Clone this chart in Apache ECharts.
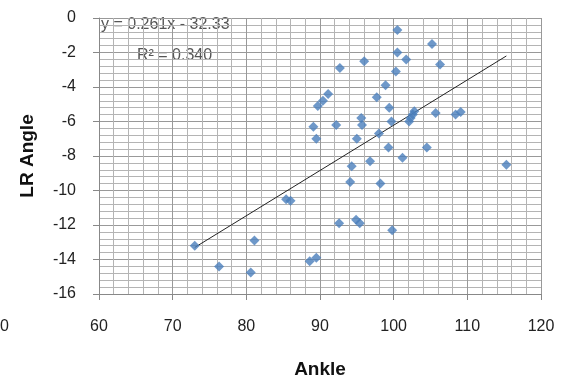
<!DOCTYPE html>
<html>
<head>
<meta charset="utf-8">
<script src="https://cdn.jsdelivr.net/npm/echarts@6/dist/echarts.min.js"></script>
<style>
  html, body { margin: 0; padding: 0; background: #fff; }
  #main { width: 561px; height: 379px; }
</style>
</head>
<body>
<div id="main"></div>
<script>
var myChart = echarts.init(document.getElementById('main'));

// Ankle (x) and LR Angle (y)
var ankle = [100.5, 105.2, 100.5, 101.7, 96.0, 92.7, 106.3, 100.3, 98.9, 97.7,
             91.1, 90.4, 89.7, 99.4, 102.8, 102.6, 102.3, 102.1, 105.7, 108.4,
             109.1, 89.1, 89.5, 92.2, 95.6, 95.7, 99.7, 98.0, 95.0, 99.3,
             104.5, 101.2, 96.8, 94.3, 115.3, 94.1, 98.2, 85.4, 86.0, 92.6,
             94.9, 95.4, 99.8, 88.6, 89.5, 73.0, 76.3, 81.1, 80.6];
var lrAngle = [-0.7, -1.5, -2.0, -2.4, -2.5, -2.9, -2.7, -3.1, -3.9, -4.6,
               -4.4, -4.8, -5.1, -5.2, -5.4, -5.6, -5.8, -6.0, -5.5, -5.6,
               -5.45, -6.3, -7.0, -6.2, -5.8, -6.2, -6.0, -6.7, -7.0, -7.5,
               -7.5, -8.1, -8.3, -8.6, -8.5, -9.5, -9.6, -10.5, -10.6, -11.9,
               -11.7, -11.9, -12.3, -14.1, -13.9, -13.2, -14.4, -12.9, -14.75];

// trend line ends
var trendX = [73.0, 115.3];
var trendY = [-13.3, -2.2];

var equationText = 'y = 0.261x - 32.33';
var r2Text = 'R² = 0.340';

var points = [];
for (var i = 0; i < ankle.length; i++) {
    points.push([ankle[i], lrAngle[i]]);
}
var trend = [];
for (var j = 0; j < trendX.length; j++) {
    trend.push([trendX[j], trendY[j]]);
}

var labelFont = {
    color: '#222',
    fontSize: 16,
    fontFamily: 'Liberation Sans'
};

option = {
    animation: false,
    grid: {
        left: 99,
        right: 20,
        top: 18,
        bottom: 85,
        outerBoundsMode: 'none'
    },
    xAxis: {
        type: 'value',
        min: 60,
        max: 120,
        interval: 10,
        name: 'Ankle',
        nameLocation: 'middle',
        nameGap: 66,
        nameTextStyle: {
            color: '#111',
            fontSize: 19,
            fontWeight: 'bold',
            fontFamily: 'Liberation Sans'
        },
        axisLine: { show: true, onZero: false, lineStyle: { color: '#888' } },
        axisTick: { show: true, length: 6, lineStyle: { color: '#888' } },
        axisLabel: Object.assign({ margin: 25 }, labelFont),
        splitLine: { show: true, lineStyle: { color: '#999', width: 1 } },
        minorTick: { show: false, splitNumber: 5 },
        minorSplitLine: { show: true, lineStyle: { color: '#b4b4b4', width: 1 } }
    },
    yAxis: {
        type: 'value',
        min: -16,
        max: 0,
        interval: 2,
        name: 'LR Angle',
        nameLocation: 'middle',
        nameGap: 62,
        nameTextStyle: {
            color: '#111',
            fontSize: 19,
            fontWeight: 'bold',
            fontFamily: 'Liberation Sans'
        },
        axisLine: { show: true, onZero: false, lineStyle: { color: '#888' } },
        axisTick: { show: true, length: 6, lineStyle: { color: '#888' } },
        axisLabel: Object.assign({ margin: 23 }, labelFont),
        splitLine: { show: true, lineStyle: { color: '#999', width: 1 } },
        minorTick: { show: false, splitNumber: 5 },
        minorSplitLine: { show: true, lineStyle: { color: '#b4b4b4', width: 1 } }
    },
    graphic: [
        {
            type: 'text',
            left: 101,
            top: 17,
            style: {
                text: equationText,
                fill: '#555',
                fontSize: 16,
                fontFamily: 'Liberation Sans'
            }
        },
        {
            type: 'text',
            left: 137,
            top: 48,
            style: {
                text: r2Text,
                fill: '#555',
                fontSize: 16,
                fontFamily: 'Liberation Sans'
            }
        },
        {
            // clipped label at the far left edge
            type: 'text',
            left: 0,
            top: 319,
            style: {
                text: '0',
                fill: '#222',
                fontSize: 16,
                fontFamily: 'Liberation Sans'
            }
        }
    ],
    series: [
        {
            name: 'trend',
            type: 'line',
            data: trend,
            symbol: 'none',
            lineStyle: { color: '#222', width: 1 },
            z: 3
        },
        {
            name: 'LR Angle',
            type: 'scatter',
            data: points,
            symbol: 'diamond',
            symbolSize: 10,
            itemStyle: { color: '#4a7ebb' },
            z: 4
        }
    ]
};

myChart.setOption(option);
</script>
</body>
</html>
